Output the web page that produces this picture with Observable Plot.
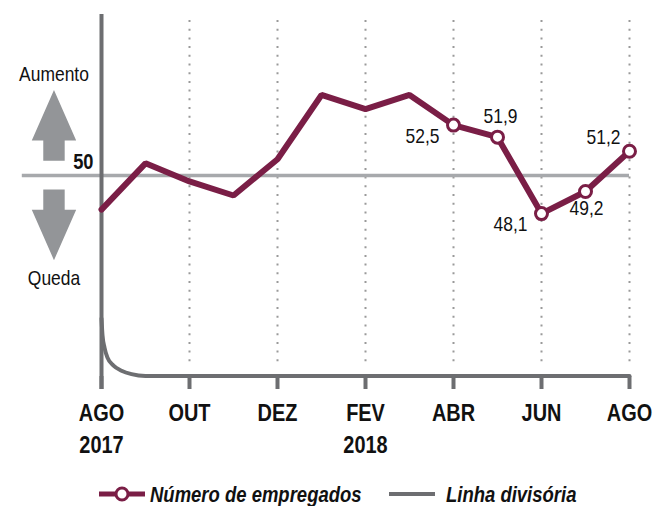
<!DOCTYPE html>
<html><head><meta charset="utf-8">
<script src="https://cdn.jsdelivr.net/npm/d3@7"></script>
<script src="https://cdn.jsdelivr.net/npm/@observablehq/plot@0.6"></script>
<style>
body{margin:0;background:#fff;}
#chart,#legend{width:663px;}
</style></head><body><div id="chart"></div><div id="legend"></div>
<script>
// ---- data ----
const months = ["AGO","SET","OUT","NOV","DEZ","JAN","FEV","MAR","ABR","MAI","JUN","JUL","AGO"];
const values = [48.3, 50.6, 49.7, 49.0, 50.8, 54.0, 53.3, 54.0, 52.5, 51.9, 48.1, 49.2, 51.2];
const tickIdx = [0, 2, 4, 6, 8, 10, 12];
const tickLabels = ["AGO\n2017", "OUT", "DEZ", "FEV\n2018", "ABR", "JUN", "AGO"];
const labeledIdx = [8, 9, 10, 11, 12];
const labelPos = ["below-left", "above", "below-left", "below", "above-left"];
const dividerX = [0, 0.023, 0.068, 0.136, 0.273, 0.455, 0.682, 1.0, 12];
const dividerY = [42.88, 42.04, 41.44, 40.94, 40.54, 40.29, 40.12, 40.03, 40.03];
const referenceValue = 50;
const directionLabels = ["Aumento", "Queda"];
const seriesNames = ["Número de empregados", "Linha divisória"];

// ---- styles ----
const FONT = '"Liberation Sans", Arial, sans-serif';
const MAROON = "#7a1e46", AXIS = "#6d6e71", REF = "#a7a9ac", ARROW = "#939598", TEXT = "#111";

const data = months.map((m, i) => ({i, month: m, value: values[i]}));
const fmt = v => d3.format(".1f")(v).replace(".", ",");
const labeled = labeledIdx.map((i, k) => ({...data[i], pos: labelPos[k], label: fmt(values[i])}));

const posStyle = {
  "below-left": {textAnchor: "end", dx: -14, dy: 11},
  "above": {textAnchor: "middle", dx: 3, dy: -21},
  "below": {textAnchor: "middle", dx: 1, dy: 17},
  "above-left": {textAnchor: "end", dx: -9, dy: -14}
};

function arrowSymbol(dir) {
  return {
    draw(ctx, size) {
      const r = Math.sqrt(size / Math.PI);
      const hw = 0.628 * r, sw = 0.303 * r, hb = 0.43 * r;
      const pts = [[0, -r], [hw, hb], [sw, hb], [sw, r], [-sw, r], [-sw, hb], [-hw, hb]];
      pts.forEach(([x, y], k) => k ? ctx.lineTo(x, y * dir) : ctx.moveTo(x, y * dir));
      ctx.closePath();
    }
  };
}

const dividerData = dividerX.map((x, k) => ({x, y: dividerY[k]}));

const chart = Plot.plot({
  width: 663, height: 472,
  marginLeft: 101, marginRight: 34, marginTop: 14, marginBottom: 96,
  x: {domain: [0, 12]},
  y: {domain: [40, 58], axis: null},
  style: {fontFamily: FONT, background: "white", overflow: "visible"},
  marks: [
    Plot.ruleX(tickIdx.slice(1), {stroke: "#9a9a9a", strokeWidth: 2, strokeDasharray: "2 6.7", insetTop: 6, insetBottom: 9}),
    Plot.ruleY([referenceValue], {x1: -1.8, x2: 12, stroke: REF, strokeWidth: 3.5}),
    Plot.line(dividerData, {x: "x", y: "y", stroke: AXIS, strokeWidth: 4, curve: "monotone-x"}),
    Plot.ruleX([0], {stroke: AXIS, strokeWidth: 4, insetBottom: -13}),
    Plot.axisX(tickIdx, {
      tickFormat: d => tickLabels[tickIdx.indexOf(d)],
      tickSize: 13, tickPadding: 8, stroke: AXIS, strokeWidth: 4,
      fill: TEXT, fontSize: 24, fontWeight: "bold", lineHeight: 1.35, label: null
    }),
    Plot.dot([{x: -1.08, y: referenceValue + 2.49}], {x: "x", y: "y", r: 35.35, symbol: arrowSymbol(1), fill: ARROW, stroke: "none"}),
    Plot.dot([{x: -1.08, y: referenceValue - 2.46}], {x: "x", y: "y", r: 35.35, symbol: arrowSymbol(-1), fill: ARROW, stroke: "none"}),
    Plot.text([directionLabels[0]], {x: -1.08, y: 55.05, text: d => d, fontSize: 21, fill: TEXT}),
    Plot.text([directionLabels[1]], {x: -1.08, y: 44.86, text: d => d, fontSize: 21, fill: TEXT}),
    Plot.text([referenceValue], {x: 0, y: referenceValue, text: d => String(d), textAnchor: "end", lineAnchor: "bottom", dx: -8, dy: -6, fontSize: 22, fontWeight: "bold", fill: TEXT}),
    Plot.line(data, {x: "i", y: "value", stroke: MAROON, strokeWidth: 6, strokeLinejoin: "miter"}),
    Plot.dot(labeled, {x: "i", y: "value", r: 6, fill: "white", stroke: MAROON, strokeWidth: 3}),
    ...Object.entries(posStyle).map(([pos, s]) =>
      Plot.text(labeled.filter(d => d.pos === pos), {x: "i", y: "value", text: "label", fontSize: 21, fill: TEXT, ...s}))
  ]
});
document.getElementById("chart").append(chart);

// ---- legend ----
const legend = d3.select("#legend").append("svg").attr("width", 663).attr("height", 34)
  .style("display", "block").style("font-family", FONT);
legend.append("line").attr("x1", 99).attr("x2", 145).attr("y1", 22).attr("y2", 22).attr("stroke", MAROON).attr("stroke-width", 5);
legend.append("circle").attr("cx", 122).attr("cy", 22).attr("r", 6).attr("fill", "white").attr("stroke", MAROON).attr("stroke-width", 3);
legend.append("line").attr("x1", 389).attr("x2", 435).attr("y1", 22).attr("y2", 22).attr("stroke", AXIS).attr("stroke-width", 4);
[[150, seriesNames[0]], [446, seriesNames[1]]].forEach(([x, t]) =>
  legend.append("text").attr("x", x).attr("y", 30).attr("font-size", 22).attr("font-weight", "bold")
    .attr("font-style", "italic").attr("fill", TEXT).text(t));

// ---- narrow the text to mimic the condensed typeface ----
function condense(root, f) {
  root.querySelectorAll("text").forEach(t => {
    const spans = t.querySelectorAll("tspan");
    (spans.length ? [...spans] : [t]).forEach(e => {
      const L = e.getComputedTextLength();
      if (L > 0) { e.setAttribute("textLength", (L * f).toFixed(2)); e.setAttribute("lengthAdjust", "spacingAndGlyphs"); }
    });
  });
}
condense(chart, 0.83);
condense(legend.node(), 0.84);
</script></body></html>
